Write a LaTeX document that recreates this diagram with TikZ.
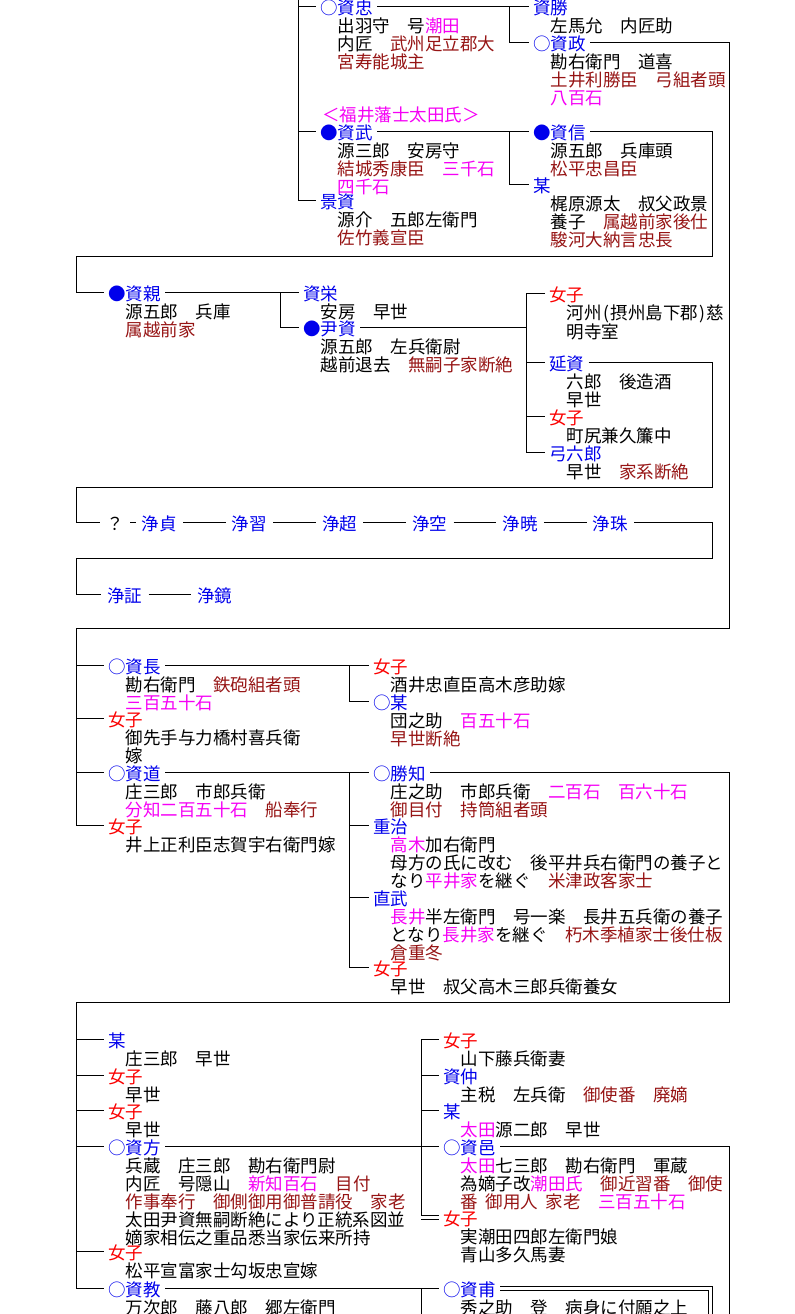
\documentclass[tikz,border=0pt]{standalone}
\usepackage{fontspec}
\setmainfont{Noto Sans CJK JP}
\usepackage{tikz}
\usetikzlibrary{positioning}
\definecolor{nmblue}{RGB}{0,0,235}
\definecolor{jored}{RGB}{250,0,0}
\definecolor{ofred}{RGB}{150,20,20}
\definecolor{rcmag}{RGB}{245,0,245}
\newcommand\ofc[1]{\textcolor{ofred}{#1}}
\newcommand\rice[1]{\textcolor{rcmag}{#1}}
\newcommand\hw[1]{\makebox[0.5em]{#1}}
\newcommand\kfont{\fontsize{13.125}{13.5}\selectfont}
% lines of a detail block, baseline on the first line
\newcommand\lns[1]{\vtop{\let\\\cr\halign{##\hfil\cr#1\crcr}}}
\tikzset{
  line/.style={line width=0.75pt},
  nm/.style={anchor=west,inner ysep=0pt,inner xsep=3pt,text height=12.2pt,text depth=0pt,
             text=nmblue,font=\kfont},
  jo/.style={nm,text=jored},
  jou/.style={nm,inner xsep=4.5pt},
  dt/.style={anchor=base west,inner sep=0pt,font=\kfont}
}
\begin{document}
\begin{tikzpicture}[x=0.75pt,y=-0.75pt,node distance=0pt and 32pt]
\useasboundingbox (0,0) rectangle (794,1314);
% upper branch
\coordinate (top) at (298,0);
\node[nm] (sktada) at (316,6) {○資忠};
\node[dt] (sktada-d) at ([shift={(21.5,18)}]sktada.base west) {\lns{出羽守　号\rice{潮田}\\内匠　\ofc{武州足立郡大}\\\ofc{宮寿能城主}}};
\node[nm] (skkatsu) at (529,6) {資勝};
\node[dt] (skkatsu-d) at ([shift={(21.5,18)}]skkatsu.base west) {\lns{左馬允　内匠助}};
\node[nm] (skmasa) at (529,42) {○資政};
\node[dt] (skmasa-d) at ([shift={(21.5,18)}]skmasa.base west) {\lns{勘右衛門　道喜\\\ofc{土井利勝臣　弓組者頭}\\\rice{八百石}}};
\node[nm,text=rcmag] (fukui) at (318,113) {＜福井藩士太田氏＞};
\node[nm] (sktake) at (316,131) {●資武};
\node[dt] (sktake-d) at ([shift={(21.5,18)}]sktake.base west) {\lns{源三郎　安房守\\\ofc{結城秀康臣}　\rice{三千石}\\\rice{四千石}}};
\node[nm] (sknobu) at (529,131) {●資信};
\node[dt] (sknobu-d) at ([shift={(21.5,18)}]sknobu.base west) {\lns{源五郎　兵庫頭\\\ofc{松平忠昌臣}}};
\node[nm] (bou1) at (529,184) {某};
\node[dt] (bou1-d) at ([shift={(21.5,18)}]bou1.base west) {\lns{梶原源太　叔父政景\\養子　\ofc{属越前家後仕}\\\ofc{駿河大納言忠長}}};
\node[nm] (kagesk) at (316,200) {景資};
\node[dt] (kagesk-d) at ([shift={(21.5,18)}]kagesk.base west) {\lns{源介　五郎左衛門\\\ofc{佐竹義宣臣}}};

\draw[line] (top) |- (kagesk.west);
\draw[line] (top |- sktada.west) -- (sktada.west);
\draw[line] (top |- sktake.west) -- (sktake.west);
\draw[line] (sktada.east) -- (skkatsu.west);
\coordinate (b1) at (509,6);
\draw[line] (b1) |- (skmasa.west);
\draw[line] (sktake.east) -- (sknobu.west);
\coordinate (b2) at (509,131);
\draw[line] (b2) |- (bou1.west);

% 資親
\node[nm] (skchika) at (104,292) {●資親};
\node[dt] (skchika-d) at ([shift={(21.5,18)}]skchika.base west) {\lns{源五郎　兵庫\\\ofc{属越前家}}};
\node[nm] (skei) at (299,292) {資栄};
\node[dt] (skei-d) at ([shift={(21.5,18)}]skei.base west) {\lns{安房　早世}};
\node[nm] (masask) at (299,327) {●尹資};
\node[dt] (masask-d) at ([shift={(21.5,18)}]masask.base west) {\lns{源五郎　左兵衛尉\\越前退去　\ofc{無嗣子家断絶}}};
\node[jo] (jo1) at (545,293) {女子};
\node[dt] (jo1-d) at ([shift={(21.5,18)}]jo1.base west) {\lns{河州\hw{(}摂州島下郡\hw{)}慈\\明寺室}};
\node[nm] (nobusk) at (545,362) {延資};
\node[dt] (nobusk-d) at ([shift={(21.5,18)}]nobusk.base west) {\lns{六郎　後造酒\\早世}};
\node[jo] (jo2) at (545,416) {女子};
\node[dt] (jo2-d) at ([shift={(21.5,18)}]jo2.base west) {\lns{町尻兼久簾中}};
\node[nm] (yumi) at (545,452) {弓六郎};
\node[dt] (yumi-d) at ([shift={(21.5,18)}]yumi.base west) {\lns{早世　\ofc{家系断絶}}};

\coordinate (r2) at (712,256);
\coordinate (l1) at (76,256);
\draw[line] (sknobu.east) -| (r2) -- (l1) |- (skchika.west);
\draw[line] (skchika.east) -- (skei.west);
\coordinate (b3) at (280,292);
\draw[line] (b3) |- (masask.west);
\coordinate (b4) at (526,293);
\draw[line] (jo1.west) -- (b4) |- (yumi.west);
\draw[line] (masask.east) -- (b4 |- masask.west);
\draw[line] (b4 |- nobusk.west) -- (nobusk.west);
\draw[line] (b4 |- jo2.west) -- (jo2.west);

% 浄
\node[nm,text=black,inner xsep=4.5pt] (q) at (100,522) {？};
\node[jou] (jou1) at (135.5,522) {浄貞};
\node[jou,right=of jou1] (jou2) {浄習};
\node[jou,right=of jou2] (jou3) {浄超};
\node[jou,right=of jou3] (jou4) {浄空};
\node[jou,right=of jou4] (jou5) {浄暁};
\node[jou,right=of jou5] (jou6) {浄珠};
\node[jou] (jou7) at (101,594) {浄証};
\node[jou,right=of jou7] (jou8) {浄鏡};

\coordinate (r3) at (712,487);
\coordinate (l2) at (76,487);
\draw[line] (nobusk.east) -| (r3) -- (l2) |- (q.west);
\draw[line] (q.east) -- (jou1.west);
\foreach \a/\b in {1/2,2/3,3/4,4/5,5/6,7/8}
  \draw[line] (jou\a.east) -- (jou\b.west);
\coordinate (r4) at (712,558);
\coordinate (l4) at (76,558);
\draw[line] (jou6.east) -| (r4) -- (l4) |- (jou7.west);

% 資政の子
\node[nm] (sknaga) at (104,665) {○資長};
\node[dt] (sknaga-d) at ([shift={(21.5,18)}]sknaga.base west) {\lns{勘右衛門　\ofc{鉄砲組者頭}\\\rice{三百五十石}}};
\node[jo] (jo3) at (104,718) {女子};
\node[dt] (jo3-d) at ([shift={(21.5,18)}]jo3.base west) {\lns{御先手与力橋村喜兵衛\\嫁}};
\node[nm] (skmichi) at (104,772) {○資道};
\node[dt] (skmichi-d) at ([shift={(21.5,18)}]skmichi.base west) {\lns{庄三郎　市郎兵衛\\\rice{分知二百五十石}　\ofc{船奉行}}};
\node[jo] (jo4) at (104,825) {女子};
\node[dt] (jo4-d) at ([shift={(21.5,18)}]jo4.base west) {\lns{井上正利臣志賀宇右衛門嫁}};
\node[jo] (jo5) at (369,665) {女子};
\node[dt] (jo5-d) at ([shift={(21.5,18)}]jo5.base west) {\lns{酒井忠直臣高木彦助嫁}};
\node[nm] (bou2) at (369,701) {○某};
\node[dt] (bou2-d) at ([shift={(21.5,18)}]bou2.base west) {\lns{団之助　\rice{百五十石}\\\ofc{早世断絶}}};
\node[nm] (katsutomo) at (369,772) {○勝知};
\node[dt] (katsutomo-d) at ([shift={(21.5,18)}]katsutomo.base west) {\lns{庄之助　市郎兵衛　\rice{二百石　百六十石}\\\ofc{御目付　持筒組者頭}}};
\node[nm] (shigeharu) at (369,825) {重治};
\node[dt] (shigeharu-d) at ([shift={(21.5,18)}]shigeharu.base west) {\lns{\rice{高木}加右衛門\\母方の氏に改む　後平井兵右衛門の養子と\\なり\rice{平井家}を継ぐ　\ofc{米津政客家士}}};
\node[nm] (naotake) at (369,897) {直武};
\node[dt] (naotake-d) at ([shift={(21.5,18)}]naotake.base west) {\lns{\rice{長井}半左衛門　号一楽　長井五兵衛の養子\\となり\rice{長井家}を継ぐ　\ofc{朽木季植家士後仕板}\\\ofc{倉重冬}}};
\node[jo] (jo6) at (369,967) {女子};
\node[dt] (jo6-d) at ([shift={(21.5,18)}]jo6.base west) {\lns{早世　叔父高木三郎兵衛養女}};

\coordinate (r1) at (729,628);
\coordinate (l3) at (76,628);
\draw[line] (skmasa.east) -| (r1) -- (l3) |- (jo4.west);
\draw[line] (l3 |- sknaga.west) -- (sknaga.west);
\draw[line] (l3 |- jo3.west) -- (jo3.west);
\draw[line] (l3 |- skmichi.west) -- (skmichi.west);
\draw[line] (sknaga.east) -- (jo5.west);
\coordinate (b5) at (349,665);
\draw[line] (b5) |- (bou2.west);
\draw[line] (skmichi.east) -- (katsutomo.west);
\coordinate (b6) at (349,772);
\draw[line] (b6) |- (jo6.west);
\draw[line] (b6 |- shigeharu.west) -- (shigeharu.west);
\draw[line] (b6 |- naotake.west) -- (naotake.west);

% 勝知の子
\node[nm] (bou3) at (104,1039) {某};
\node[dt] (bou3-d) at ([shift={(21.5,18)}]bou3.base west) {\lns{庄三郎　早世}};
\node[jo] (jo7) at (104,1075) {女子};
\node[dt] (jo7-d) at ([shift={(21.5,18)}]jo7.base west) {\lns{早世}};
\node[jo] (jo8) at (104,1110) {女子};
\node[dt] (jo8-d) at ([shift={(21.5,18)}]jo8.base west) {\lns{早世}};
\node[nm] (skkata) at (104,1146) {○資方};
\node[dt] (skkata-d) at ([shift={(21.5,18)}]skkata.base west) {\lns{兵蔵　庄三郎　勘右衛門尉\\内匠　号隠山　\rice{新知百石}　\ofc{目付}\\\ofc{作事奉行　御側御用御普請役　家老}\\太田尹資無嗣断絶により正統系図並\\嫡家相伝之重品悉当家伝来所持}};
\node[jo] (jo9) at (104,1251) {女子};
\node[dt] (jo9-d) at ([shift={(21.5,18)}]jo9.base west) {\lns{松平宣富家士勾坂忠宣嫁}};
\node[nm] (sknori) at (104,1288) {○資教};
\node[dt] (sknori-d) at ([shift={(21.5,18)}]sknori.base west) {\lns{万次郎　藤八郎　郷左衛門}};
\node[jo] (jo10) at (439,1039) {女子};
\node[dt] (jo10-d) at ([shift={(21.5,18)}]jo10.base west) {\lns{山下藤兵衛妻}};
\node[nm] (sknaka) at (439,1075) {資仲};
\node[dt] (sknaka-d) at ([shift={(21.5,18)}]sknaka.base west) {\lns{主税　左兵衛　\ofc{御使番　廃嫡}}};
\node[nm] (bou4) at (439,1110) {某};
\node[dt] (bou4-d) at ([shift={(21.5,18)}]bou4.base west) {\lns{\rice{太田}源二郎　早世}};
\node[nm] (skmura) at (439,1146) {○資邑};
\node[dt] (skmura-d) at ([shift={(21.5,18)}]skmura.base west) {\lns{\rice{太田}七三郎　勘右衛門　軍蔵\\為嫡子改\rice{潮田氏}　\ofc{御近習番　御使}\\\ofc{番\hspace{5.6pt}御用人\hspace{5.6pt}家老}　\rice{三百五十石}}};
\node[jo] (jo11) at (439,1217) {女子};
\node[dt] (jo11-d) at ([shift={(21.5,18)}]jo11.base west) {\lns{実潮田四郎左衛門娘\\青山多久馬妻}};
\node[nm] (sksuke) at (439,1288) {○資甫};
\node[dt] (sksuke-d) at ([shift={(21.5,18)}]sksuke.base west) {\lns{秀之助　登　病身に付願之上}};

\coordinate (r5) at (729,1002);
\coordinate (l5) at (76,1002);
\draw[line] (katsutomo.east) -| (r5) -- (l5) |- (sknori.west);
\draw[line] (l5 |- bou3.west) -- (bou3.west);
\draw[line] (l5 |- jo7.west) -- (jo7.west);
\draw[line] (l5 |- jo8.west) -- (jo8.west);
\draw[line] (l5 |- skkata.west) -- (skkata.west);
\draw[line] (l5 |- jo9.west) -- (jo9.west);
\draw[line] (skkata.east) -- (skmura.west);
\coordinate (b7) at (421,1039);
\draw[line] (jo10.west) -- (b7) |- ([yshift=1.5pt]jo11.west);
\draw[line] ([yshift=-1.5pt]jo11.west -| b7) -- ([yshift=-1.5pt]jo11.west);
\draw[line] (b7 |- sknaka.west) -- (sknaka.west);
\draw[line] (b7 |- bou4.west) -- (bou4.west);
\coordinate (r6) at (729,1314);
\draw[line] (skmura.east) -| (r6);
\draw[line] (sknori.east) -- (sksuke.west);
\coordinate (b8) at (421,1314);
\draw[line] (b8 |- sksuke.west) -- (b8);
\coordinate (r7) at (710,1314);
\draw[line,double distance=2.25pt] (sksuke.east) -| (r7);
\end{tikzpicture}
\end{document}
